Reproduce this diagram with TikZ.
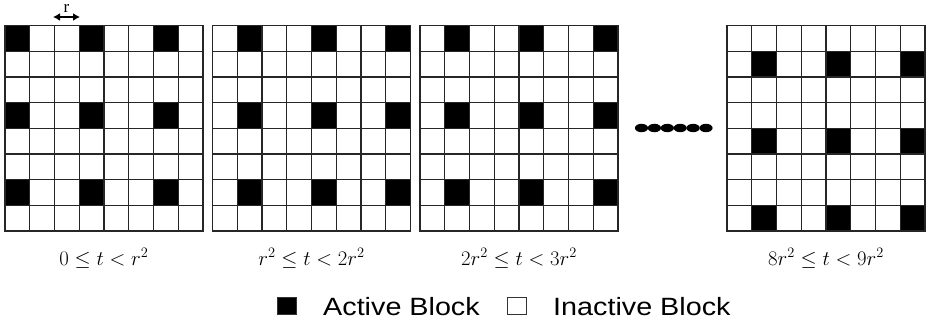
\documentclass[tikz,border=0pt]{standalone}
\usepackage{fontspec}
\setmainfont{Liberation Serif}
\newfontfamily\legendfont[FakeStretch=1.15]{Liberation Sans}
\usetikzlibrary{arrows.meta,positioning}

\tikzset{
    gridline/.style={draw=black!85, line width=1.3pt, line cap=rect},
    activefill/.style={fill=black},
    timelabel/.style={font=\fontsize{20}{22}\selectfont, anchor=base, inner sep=0pt},
    legendtext/.style={font=\legendfont\fontsize{25}{28}\selectfont, anchor=base west, inner sep=0pt},
    keybox/.style={draw=black!80, line width=0.8pt, minimum width=19pt, minimum height=17pt, inner sep=0pt},
}

\begin{document}
\begin{tikzpicture}[x=1pt, y=-1pt]
    \useasboundingbox (0,0) rectangle (933,326);

    % Four 8x8 grids: left edge / active rows / active columns / time slot.
    % Cells are 24.75 wide and 25.7 high, the grids start at y=25.5.
    \foreach \gx/\rows/\cols/\lab [count=\g] in {
            5/{0,3,6}/{0,3,6}/{0\le t<r^2},
            212.5/{0,3,6}/{1,4,7}/{r^2\le t<2r^2},
            420/{0,3,6}/{1,4,7}/{2r^2\le t<3r^2},
            727/{1,4,7}/{1,4,7}/{8r^2\le t<9r^2}} {
        % active blocks first, so the lines go on top of them
        \foreach \r in \rows {
            \foreach \c in \cols {
                \fill[activefill] (\gx+\c*24.75,25.5+\r*25.7) rectangle ++(24.75,25.7);
            }
        }
        % the lines of the grid
        \foreach \k in {0,...,8} {
            \draw[gridline] (\gx+\k*24.75,25.5) -- ++(0,205.6);
            \draw[gridline] (\gx,25.5+\k*25.7) -- ++(198,0);
        }
        \node[timelabel] (time\g) at (\gx+99,265) {$\lab$};
    }

    % Block size r, marked above the first grid.
    \coordinate (rleft) at (53,17);
    \coordinate (rright) at (80,17);
    \draw[{Latex[length=7pt,width=8pt]}-{Latex[length=7pt,width=8pt]}, line width=1.6pt] (rleft) -- (rright);
    \node[font=\fontsize{17}{18}\selectfont, inner sep=0pt, anchor=base] (rlabel) at (66.5,13) {r};

    % The skipped time slots.
    \foreach \i in {0,...,5} {
        \fill (641.5+\i*12.9,128) ellipse (6.6pt and 4.2pt);
    }

    % Legend.
    \node[keybox, fill=black] (keyon) at (287,306) {};
    \node[legendtext] (keyontext) at (323,315) {Active Block};
    \node[keybox, fill=white] (keyoff) at (517,306) {};
    \node[legendtext] (keyofftext) at (553,315) {Inactive Block};
\end{tikzpicture}
\end{document}
